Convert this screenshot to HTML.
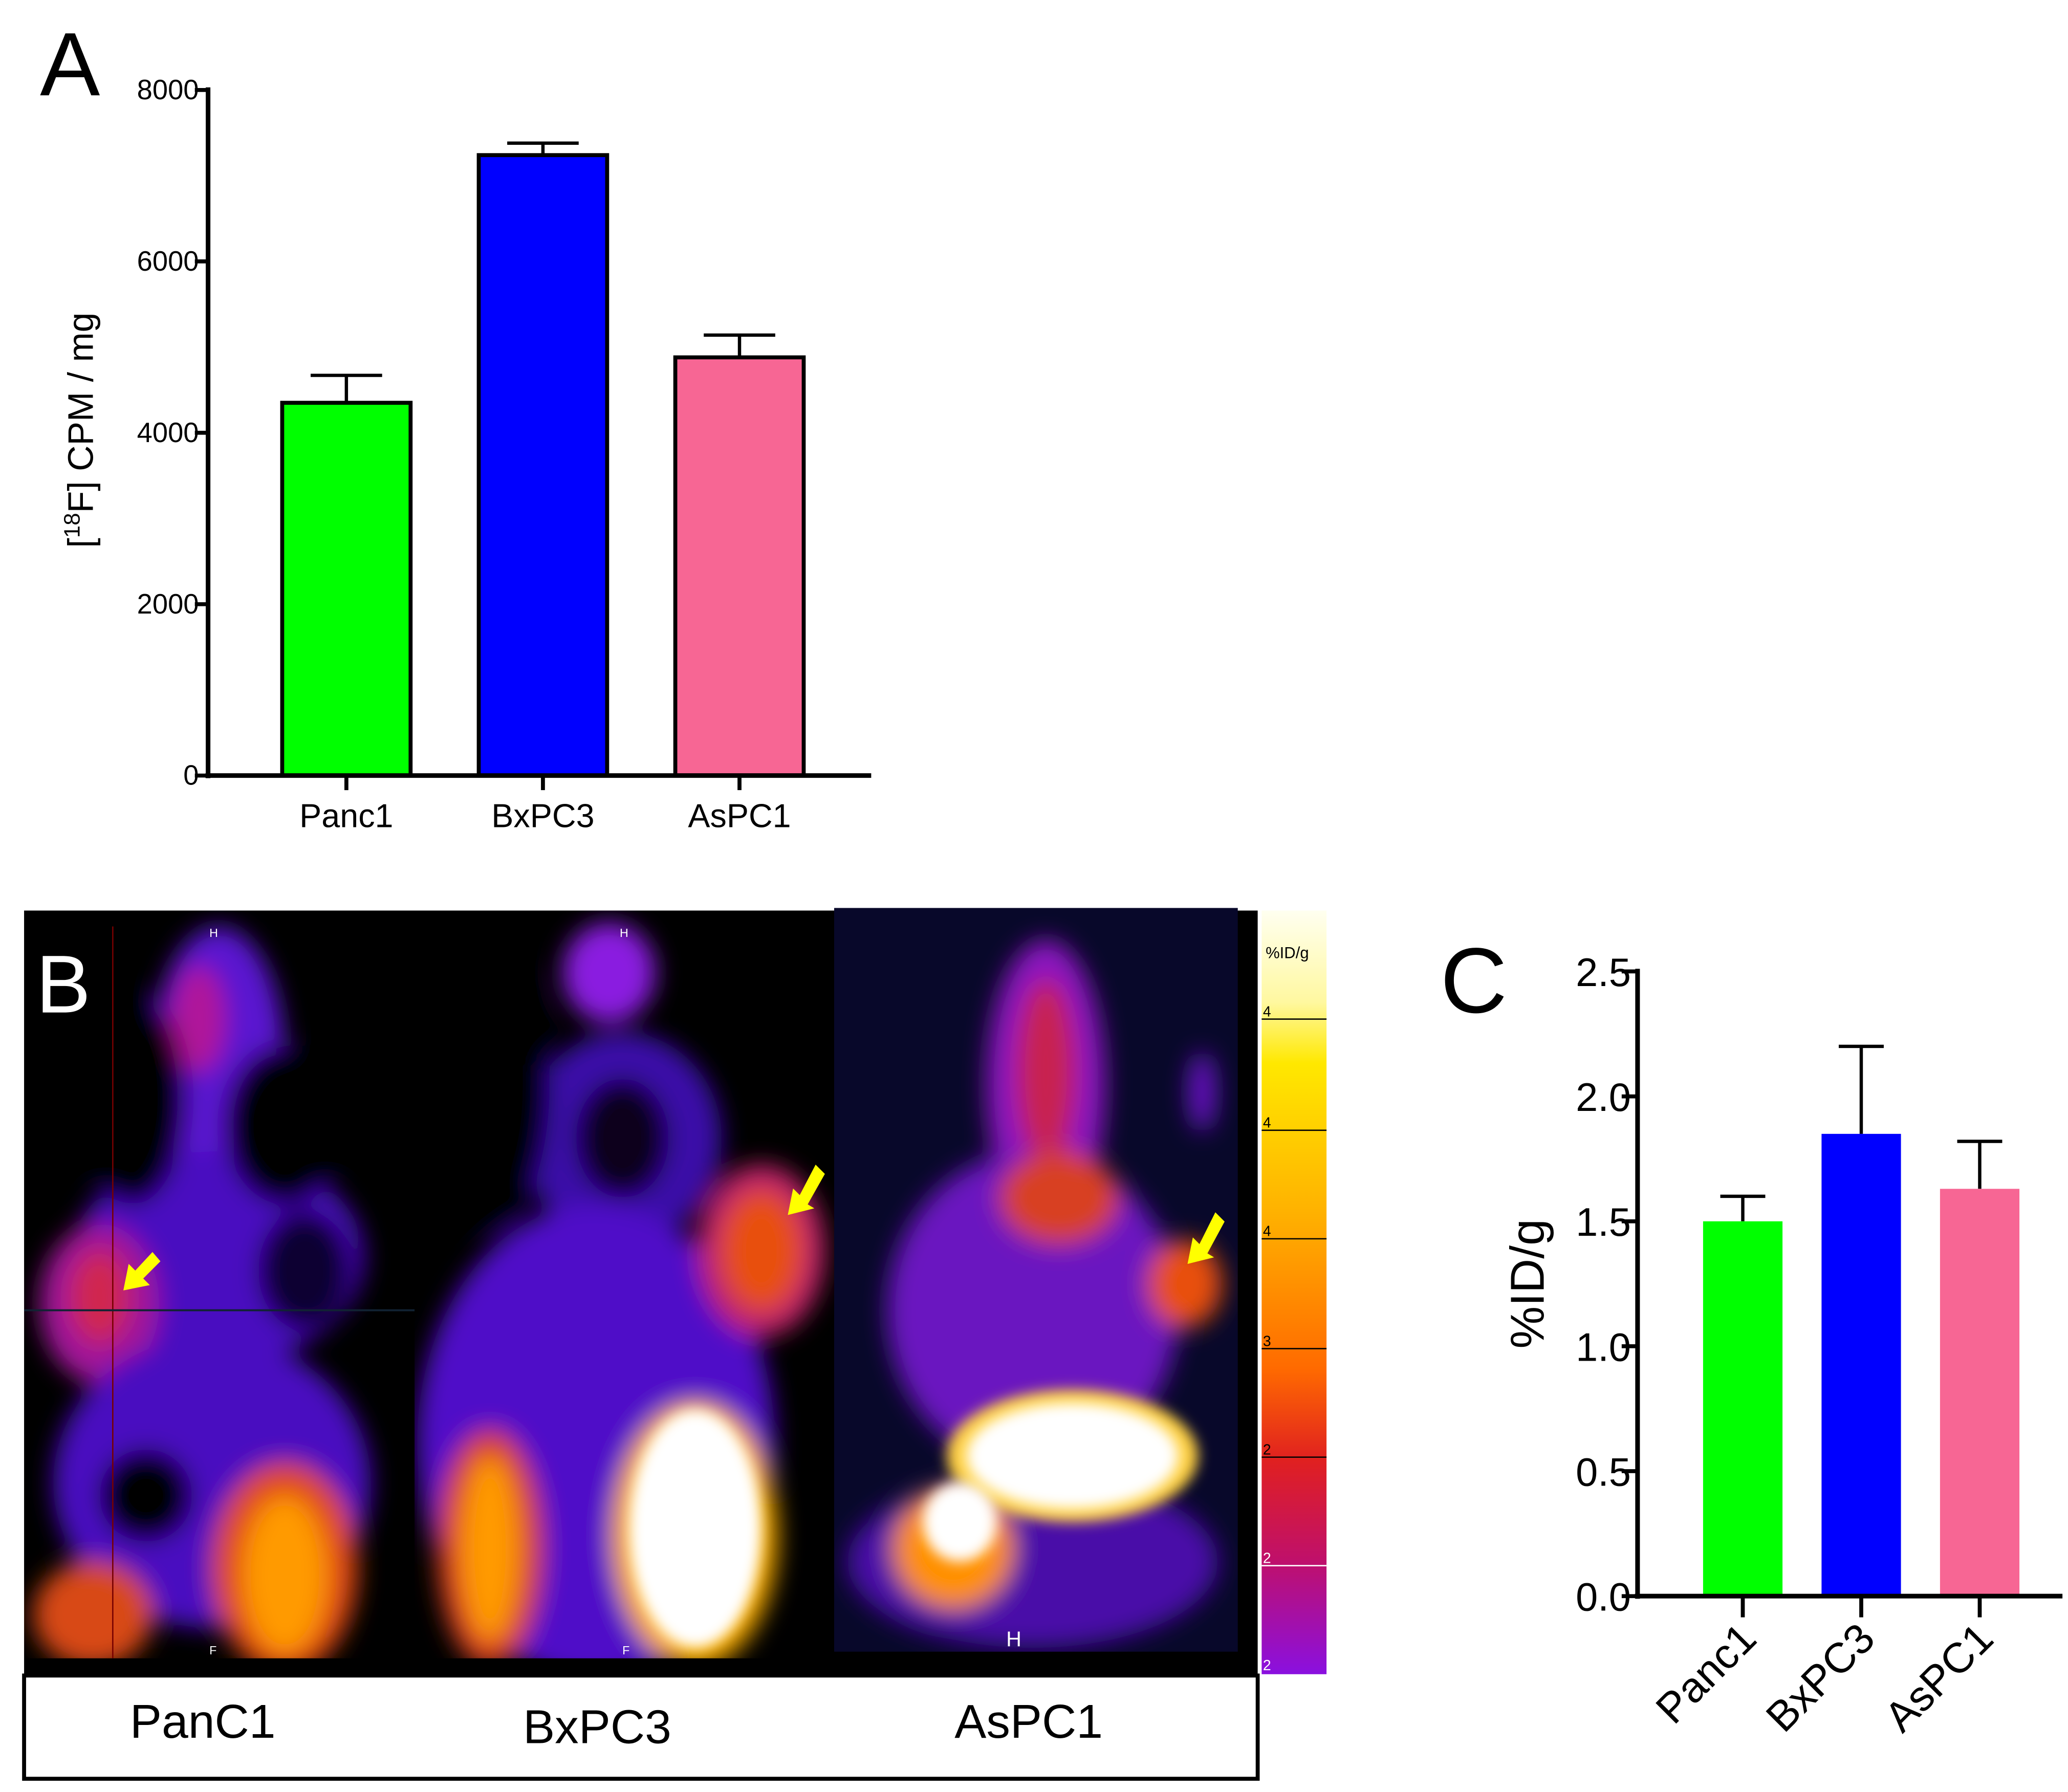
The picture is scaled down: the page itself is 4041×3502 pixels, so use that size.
<!DOCTYPE html>
<html><head><meta charset="utf-8"><style>
html,body{margin:0;padding:0;background:#fff;}
svg{display:block;}
text{font-family:"Liberation Sans",Arial,sans-serif;}
</style></head><body>
<svg id="fig" width="4041" height="3502" viewBox="0 0 1562 1354" xmlns="http://www.w3.org/2000/svg">
<defs>
<filter id="blur" x="-30%" y="-30%" width="160%" height="160%"><feGaussianBlur stdDeviation="9"/></filter>
<filter id="blur2" x="-30%" y="-30%" width="160%" height="160%"><feGaussianBlur stdDeviation="5"/></filter>
<linearGradient id="cbar" x1="0" y1="0" x2="0" y2="1">
<stop offset="0" stop-color="#fffff0"/><stop offset="0.12" stop-color="#fff8a0"/><stop offset="0.2" stop-color="#ffe800"/>
<stop offset="0.4" stop-color="#ffb000"/><stop offset="0.6" stop-color="#ff6a00"/><stop offset="0.72" stop-color="#e02020"/>
<stop offset="0.85" stop-color="#c0106a"/><stop offset="1" stop-color="#8a10e0"/></linearGradient>
<clipPath id="c1"><rect x="18" y="688" width="295" height="565"/></clipPath>
<clipPath id="c2"><rect x="313" y="688" width="317" height="565"/></clipPath>
<clipPath id="c3"><rect x="630" y="686" width="305" height="562"/></clipPath>
</defs>

<g id="panelA"></g>
<g id="panelC"></g>

<!-- Panel B -->
<g>
<rect x="18" y="688" width="932" height="577" fill="#000"/>
<g clip-path="url(#c1)">
 <g filter="url(#blur)">
  <ellipse cx="165" cy="800" rx="50" ry="100" fill="#5a12d0"/>
  <ellipse cx="150" cy="770" rx="20" ry="40" fill="#b0189a"/>
  <ellipse cx="165" cy="950" rx="110" ry="80" fill="#4a10c0"/>
  <ellipse cx="75" cy="985" rx="45" ry="60" fill="#a0189a"/>
  <ellipse cx="75" cy="980" rx="22" ry="35" fill="#d02850"/>
  <ellipse cx="160" cy="1120" rx="120" ry="110" fill="#4a10c0"/>
  <ellipse cx="215" cy="1185" rx="55" ry="80" fill="#e04818"/>
  <ellipse cx="215" cy="1190" rx="32" ry="60" fill="#ff9a00"/>
  <ellipse cx="70" cy="1220" rx="45" ry="40" fill="#d84818"/>
  <ellipse cx="110" cy="1130" rx="35" ry="35" fill="#000"/>
  <ellipse cx="230" cy="960" rx="35" ry="45" fill="#080030"/>
  <ellipse cx="215" cy="850" rx="45" ry="60" fill="#000"/>
  <ellipse cx="100" cy="830" rx="40" ry="80" fill="#000"/>
 </g>
 <line x1="85" y1="700" x2="85" y2="1253" stroke="#700" stroke-width="1"/>
 <line x1="18" y1="990" x2="620" y2="990" stroke="#123" stroke-width="1.5"/>
</g>
<g clip-path="url(#c2)">
 <g filter="url(#blur)">
  <ellipse cx="460" cy="735" rx="35" ry="38" fill="#8a1ae0"/>
  <ellipse cx="470" cy="860" rx="75" ry="80" fill="#3a10a8"/>
  <ellipse cx="450" cy="1090" rx="135" ry="180" fill="#5010c8"/>
  <ellipse cx="470" cy="860" rx="35" ry="45" fill="#08001c"/>
  <ellipse cx="575" cy="945" rx="48" ry="65" fill="#c0206a"/>
  <ellipse cx="575" cy="945" rx="30" ry="45" fill="#e85010"/>
  <ellipse cx="370" cy="1170" rx="40" ry="90" fill="#d84020"/>
  <ellipse cx="370" cy="1170" rx="22" ry="70" fill="#ff9a00"/>
  <ellipse cx="525" cy="1160" rx="62" ry="100" fill="#ffb000"/>
  <ellipse cx="370" cy="820" rx="45" ry="110" fill="#000"/>
 </g>
 <ellipse cx="525" cy="1155" rx="50" ry="90" fill="#fff" filter="url(#blur2)"/>
</g>
<g clip-path="url(#c3)">
 <rect x="630" y="686" width="305" height="562" fill="#08082a"/>
 <g filter="url(#blur)">
  <ellipse cx="790" cy="820" rx="45" ry="110" fill="#8a18c0"/>
  <ellipse cx="790" cy="810" rx="22" ry="70" fill="#c82050"/>
  <ellipse cx="780" cy="990" rx="110" ry="120" fill="#6a14c0"/>
  <ellipse cx="800" cy="905" rx="45" ry="35" fill="#d84020"/>
  <ellipse cx="895" cy="970" rx="28" ry="33" fill="#e85010"/>
  <ellipse cx="908" cy="825" rx="10" ry="30" fill="#6a14c8"/>
  <ellipse cx="780" cy="1180" rx="140" ry="65" fill="#4a10a8"/>
  <ellipse cx="720" cy="1170" rx="45" ry="45" fill="#ff9000"/>
 </g>
 <ellipse cx="810" cy="1100" rx="95" ry="50" fill="#ffd040" filter="url(#blur2)"/>
 <ellipse cx="810" cy="1100" rx="80" ry="40" fill="#fff" filter="url(#blur2)"/>
 <ellipse cx="725" cy="1150" rx="28" ry="30" fill="#fff" filter="url(#blur2)"/>
</g>
<text x="158" y="708" font-size="9" fill="#fff">H</text>
<text x="468" y="708" font-size="9" fill="#fff">H</text>
<text x="158" y="1250" font-size="9" fill="#fff">F</text>
<text x="470" y="1250" font-size="9" fill="#fff">F</text>
<text x="760" y="1244" font-size="16" fill="#fff">H</text>
<g fill="#ff0">
 <polygon points="93,975 97,955 102,960 115,946 121,953 108,966 113,971"/>
 <polygon points="595,918 599,898 604,903 616,880 623,887 610,910 615,913"/>
 <polygon points="897,955 901,935 906,940 918,916 925,923 912,947 917,950"/>
</g>
<text x="27" y="765" font-size="62" fill="#fff">B</text>
<g>
 <rect x="953" y="688" width="49" height="577" fill="url(#cbar)"/>
 <text x="956" y="724" font-size="12" font-family="Liberation Serif" fill="#000">%ID/g</text>
 <g stroke="#000" stroke-width="1"><line x1="953" y1="770" x2="1002" y2="770"/><line x1="953" y1="854" x2="1002" y2="854"/><line x1="953" y1="936" x2="1002" y2="936"/><line x1="953" y1="1019" x2="1002" y2="1019"/><line x1="953" y1="1101" x2="1002" y2="1101"/></g>
 <line x1="953" y1="1183" x2="1002" y2="1183" stroke="#fff"/>
 <g font-size="11" fill="#000"><text x="954" y="768">4</text><text x="954" y="852">4</text><text x="954" y="934">4</text><text x="954" y="1017">3</text><text x="954" y="1099">2</text><text x="954" y="1181" fill="#fff">2</text><text x="954" y="1262" fill="#fff">2</text></g>
</g>
<rect x="18" y="1266" width="932" height="78" fill="#fff" stroke="#000" stroke-width="3"/>
<g font-size="36" text-anchor="middle" fill="#000">
 <text x="153" y="1313">PanC1</text>
 <text x="451" y="1317">BxPC3</text>
 <text x="777" y="1313">AsPC1</text>
</g>
</g>
</svg>
<script>
const NS="http://www.w3.org/2000/svg";
const catsA=["Panc1","BxPC3","AsPC1"];
const valsA=[4350,7240,4880];
const errA=[320,140,260];
const ticksA=[0,2000,4000,6000,8000];
const catsC=["Panc1","BxPC3","AsPC1"];
const valsC=[1.50,1.85,1.63];
const errC=[0.10,0.35,0.19];
const ticksC=["0.0","0.5","1.0","1.5","2.0","2.5"];
const colors=["#00ff00","#0000ff","#f76694"];
function mk(p,t,a){const e=document.createElementNS(NS,t);for(const k in a)e.setAttribute(k,a[k]);p.appendChild(e);return e;}
// Panel A
(function(){
 const g=document.getElementById("panelA");
 const y=v=>586-v*(518/8000);
 const xc=i=>261.5+i*148.5;
 const bw=97;
 let t=mk(g,"text",{x:30,y:72,"font-size":68});t.textContent="A";
 
 
 ticksA.forEach(v=>{
  mk(g,"line",{x1:147,y1:y(v),x2:157,y2:y(v),stroke:"#000","stroke-width":3});
  const tt=mk(g,"text",{x:150,y:y(v)+7,"font-size":21,"text-anchor":"end"});tt.textContent=v;
  
  
 });
 catsA.forEach((c,i)=>{
  const ey=y(valsA[i]+errA[i]);
  mk(g,"line",{x1:xc(i),y1:ey,x2:xc(i),y2:y(valsA[i]),stroke:"#000","stroke-width":2.5});
  mk(g,"line",{x1:xc(i)-27,y1:ey,x2:xc(i)+27,y2:ey,stroke:"#000","stroke-width":2.5});
  const r=mk(g,"rect",{x:xc(i)-bw/2,y:y(valsA[i]),width:bw,height:586-y(valsA[i]),fill:colors[i],stroke:"#000","stroke-width":3});
  
  
  mk(g,"line",{x1:xc(i),y1:586,x2:xc(i),y2:597,stroke:"#000","stroke-width":3});
  const l=mk(g,"text",{x:xc(i),y:625,"font-size":25,"text-anchor":"middle"});l.textContent=c;
  
  
 });
 mk(g,"line",{x1:157,y1:66,x2:157,y2:588,stroke:"#000","stroke-width":3.5});
 mk(g,"line",{x1:155,y1:586,x2:658,y2:586,stroke:"#000","stroke-width":3.5});
 const yt=mk(g,"text",{transform:"translate(70,325) rotate(-90)","font-size":27,"text-anchor":"middle"});
 yt.innerHTML='[<tspan font-size="17" dy="-10">18</tspan><tspan dy="10">F] CPM / mg</tspan>';
 
 
})();
// Panel C
(function(){
 const g=document.getElementById("panelC");
 const y=v=>1206-v*(472/2.5);
 const xc=i=>1316.5+i*89.5;
 const bw=60;
 let t=mk(g,"text",{x:1088,y:765,"font-size":70});t.textContent="C";
 
 
 ticksC.forEach(s=>{
  const v=parseFloat(s);
  mk(g,"line",{x1:1225,y1:y(v),x2:1237,y2:y(v),stroke:"#000","stroke-width":3});
  const tt=mk(g,"text",{x:1232,y:y(v)+11,"font-size":30,"text-anchor":"end"});tt.textContent=s;
  
  
 });
 catsC.forEach((c,i)=>{
  const ey=y(valsC[i]+errC[i]);
  mk(g,"line",{x1:xc(i),y1:ey,x2:xc(i),y2:y(valsC[i]),stroke:"#000","stroke-width":2.5});
  mk(g,"line",{x1:xc(i)-17,y1:ey,x2:xc(i)+17,y2:ey,stroke:"#000","stroke-width":2.5});
  const r=mk(g,"rect",{x:xc(i)-bw/2,y:y(valsC[i]),width:bw,height:1206-y(valsC[i]),fill:colors[i]});
  
  
  mk(g,"line",{x1:xc(i),y1:1206,x2:xc(i),y2:1222,stroke:"#000","stroke-width":3});
  const l=mk(g,"text",{transform:`translate(${xc(i)+12},${1240}) rotate(-45)`,"font-size":32,"text-anchor":"end"});l.textContent=c;
  
  
 });
 mk(g,"line",{x1:1237,y1:732,x2:1237,y2:1208,stroke:"#000","stroke-width":3.5});
 mk(g,"line",{x1:1235,y1:1206,x2:1558,y2:1206,stroke:"#000","stroke-width":3.5});
 const yt=mk(g,"text",{transform:"translate(1166,970) rotate(-90)","font-size":36,"text-anchor":"middle"});yt.textContent="%ID/g";
 
 
})();
</script>
</body></html>
